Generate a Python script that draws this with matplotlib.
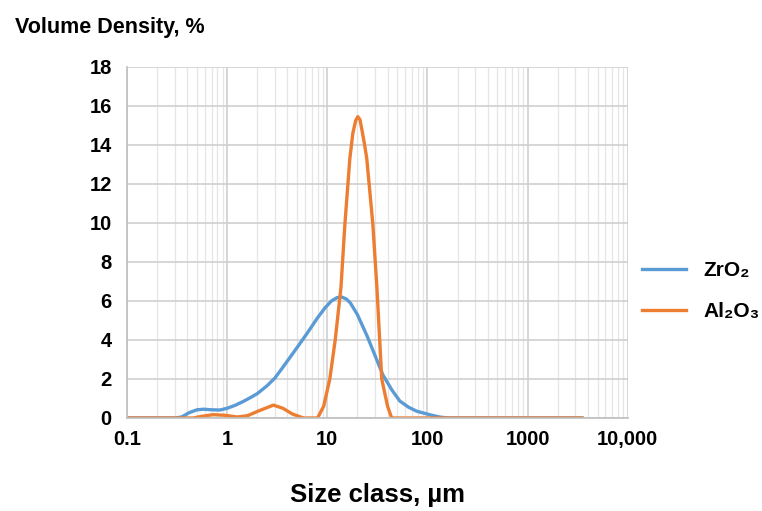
import numpy as np
import matplotlib.pyplot as plt
from matplotlib.ticker import FixedLocator, LogLocator, NullFormatter

plt.rcParams['font.family'] = ['Liberation Sans', 'DejaVu Sans']

# values (size in um, volume density in %)
zro2_size = [0.1, 0.3, 0.35, 0.42, 0.5, 0.58, 0.7, 0.85, 1.0, 1.2, 1.45, 1.7, 2.0, 2.5,
             3.0, 3.6, 4.3, 5.3, 6.5, 7.9, 9.5, 11.0, 12.5, 14.0, 15.5, 17.0, 20.0, 25.0, 30.0,
             36.0, 44.0, 53.0, 65.0, 78.0, 105.0, 132.0, 160.0, 3500.0]
zro2_vol = [0.0, 0.0, 0.05, 0.28, 0.42, 0.45, 0.42, 0.41, 0.5, 0.65, 0.85, 1.04, 1.25, 1.65,
            2.05, 2.6, 3.15, 3.8, 4.45, 5.1, 5.65, 6.0, 6.17, 6.2, 6.1, 5.9, 5.3, 4.2, 3.2,
            2.2, 1.45, 0.87, 0.55, 0.35, 0.17, 0.05, 0.0, 0.0]

al2o3_size = [0.1, 0.46, 0.55, 0.72, 0.95, 1.26, 1.6, 2.1, 2.9, 3.6, 4.5, 5.8, 8.0, 9.2,
              10.6, 12.0, 13.7, 15.0, 16.8, 18.0, 19.2, 20.2, 21.2, 22.5, 23.6, 24.8,
              28.5, 31.3, 35.0, 40.0, 44.0, 3500.0]
al2o3_vol = [0.0, 0.0, 0.08, 0.17, 0.14, 0.05, 0.12, 0.38, 0.66, 0.5, 0.2, 0.0, 0.0, 0.6,
             2.0, 4.0, 6.7, 9.95, 13.3, 14.6, 15.25, 15.45, 15.3, 14.6, 14.0, 13.3,
             9.95, 6.7, 2.0, 0.6, 0.0, 0.0]

x_ticks = [0.1, 1, 10, 100, 1000, 10000]
x_labels = ['0.1', '1', '10', '100', '1000', '10,000']
y_ticks = list(range(0, 19, 2))

fig = plt.figure(figsize=(7.62, 5.11), dpi=100)
ax = fig.add_axes([0.1667, 0.182, 0.657, 0.687])

ax.plot(zro2_size, zro2_vol, color='#5B9BD5', lw=2.4, label='ZrO₂', solid_joinstyle='round')
ax.plot(al2o3_size, al2o3_vol, color='#ED7D31', lw=2.4, label='Al₂O₃', solid_joinstyle='round')

ax.set_xscale('log')
ax.set_xlim(0.1, 10000)
ax.set_ylim(0, 18)
ax.xaxis.set_major_locator(FixedLocator(x_ticks))
ax.set_xticklabels(x_labels)
ax.xaxis.set_minor_locator(LogLocator(base=10, subs=np.arange(2, 10)))
ax.xaxis.set_minor_formatter(NullFormatter())
ax.set_yticks(y_ticks)

ax.grid(which='major', axis='both', color='#cfcfcf', lw=1.2)
ax.grid(which='minor', axis='x', color='#e6e6e6', lw=0.9)
ax.set_axisbelow(True)
ax.tick_params(which='both', length=0, labelsize=14.5)
ax.tick_params(axis='x', pad=9)
ax.tick_params(axis='y', pad=11)
for lab in ax.get_xticklabels() + ax.get_yticklabels():
    lab.set_fontweight('bold')

for s in ['top', 'right']:
    ax.spines[s].set_visible(False)
for s in ['left', 'bottom']:
    ax.spines[s].set_color('#bfbfbf')
    ax.spines[s].set_linewidth(1.2)

fig.text(0.02, 0.947, 'Volume Density, %', fontsize=15.5, fontweight='bold', va='center')
fig.text(0.496, 0.031, 'Size class, µm', fontsize=18.5, fontweight='bold', ha='center', va='center')

leg = fig.legend(loc='center left', bbox_to_anchor=(0.842, 0.43), frameon=False,
                 prop={'weight': 'bold', 'size': 15}, handlelength=2.15,
                 labelspacing=1.05, handletextpad=0.8, borderpad=0, borderaxespad=0)

fig.savefig('out.png', dpi=100)
